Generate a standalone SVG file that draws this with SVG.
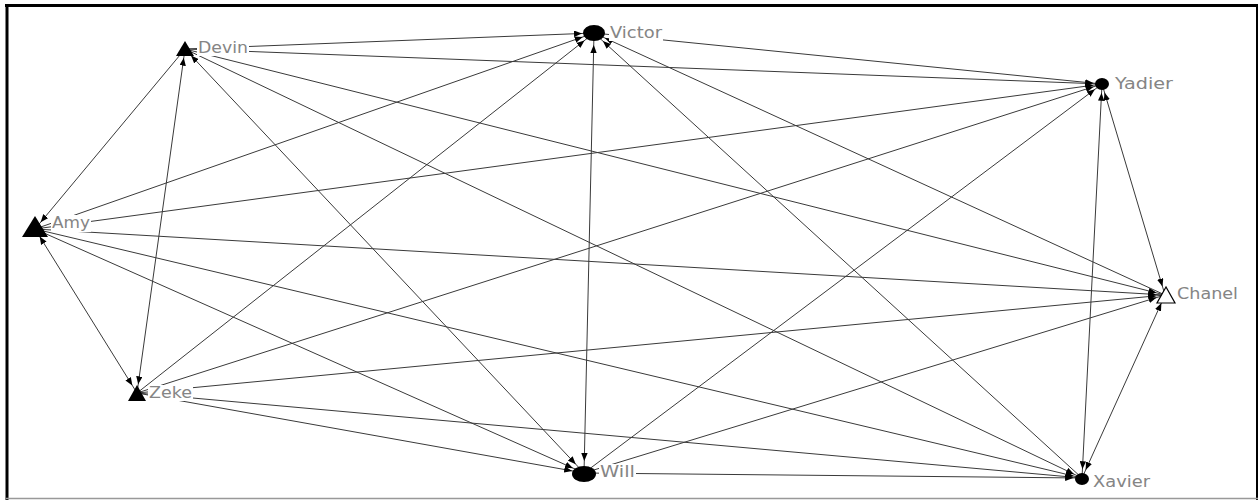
<svg xmlns="http://www.w3.org/2000/svg" width="1259" height="500" viewBox="0 0 1259 500">
<style>
.e{stroke:#3a3a3a;stroke-width:1;fill:none}
.lbl{font-family:"DejaVu Sans","Verdana",sans-serif;font-size:15px;fill:#858585}
.bg{fill:#fff}
.n{fill:#000}
</style>
<defs>
<marker id="s" viewBox="0 0 10 8" markerWidth="8" markerHeight="6.4" refX="21" refY="4" orient="auto-start-reverse" markerUnits="userSpaceOnUse"><path d="M0,0 L10,4 L0,8 z" fill="#000"/></marker>
<marker id="b" viewBox="0 0 10 8" markerWidth="8" markerHeight="6.4" refX="25" refY="4" orient="auto-start-reverse" markerUnits="userSpaceOnUse"><path d="M0,0 L10,4 L0,8 z" fill="#000"/></marker>
</defs>
<rect x="0" y="0" width="1259" height="500" fill="#fff"/>
<g id="frame">
<line x1="5" y1="5.5" x2="1258" y2="5.5" stroke="#000" stroke-width="3"/>
<line x1="7" y1="4" x2="7" y2="500" stroke="#000" stroke-width="3"/>
<line x1="1257" y1="4" x2="1257" y2="500" stroke="#000" stroke-width="2"/>
<line x1="6" y1="498.5" x2="1258" y2="498.5" stroke="#999" stroke-width="1.5"/>
</g>
<g id="connectors">
<line class="e" x1="185" y1="49" x2="594" y2="33" marker-end="url(#b)"/>
<line class="e" x1="185" y1="49" x2="1102" y2="84" marker-end="url(#s)"/>
<line class="e" x1="185" y1="49" x2="35" y2="229" marker-end="url(#s)"/>
<line class="e" x1="185" y1="49" x2="137" y2="393" marker-start="url(#s)" marker-end="url(#s)"/>
<line class="e" x1="185" y1="49" x2="584" y2="473" marker-start="url(#s)" marker-end="url(#b)"/>
<line class="e" x1="185" y1="49" x2="1082" y2="478" marker-end="url(#s)"/>
<line class="e" x1="185" y1="49" x2="1165" y2="295" marker-end="url(#s)"/>
<line class="e" x1="594" y1="33" x2="584" y2="473" marker-start="url(#b)" marker-end="url(#b)"/>
<line class="e" x1="35" y1="229" x2="594" y2="33" marker-end="url(#b)"/>
<line class="e" x1="137" y1="393" x2="594" y2="33" marker-end="url(#b)"/>
<line class="e" x1="1082" y1="478" x2="594" y2="33" marker-end="url(#b)"/>
<line class="e" x1="1165" y1="295" x2="594" y2="33" marker-end="url(#b)"/>
<line class="e" x1="594" y1="33" x2="1102" y2="84" marker-end="url(#s)"/>
<line class="e" x1="35" y1="229" x2="1102" y2="84" marker-end="url(#s)"/>
<line class="e" x1="137" y1="393" x2="1102" y2="84" marker-end="url(#s)"/>
<line class="e" x1="584" y1="473" x2="1102" y2="84" marker-end="url(#s)"/>
<line class="e" x1="1102" y1="84" x2="1082" y2="478" marker-start="url(#s)" marker-end="url(#s)"/>
<line class="e" x1="1102" y1="84" x2="1165" y2="295" marker-start="url(#s)" marker-end="url(#s)"/>
<line class="e" x1="35" y1="229" x2="137" y2="393" marker-start="url(#s)" marker-end="url(#s)"/>
<line class="e" x1="35" y1="229" x2="1165" y2="295" marker-end="url(#s)"/>
<line class="e" x1="35" y1="229" x2="584" y2="473" marker-end="url(#b)"/>
<line class="e" x1="35" y1="229" x2="1082" y2="478" marker-end="url(#s)"/>
<line class="e" x1="137" y1="393" x2="1165" y2="295" marker-end="url(#s)"/>
<line class="e" x1="137" y1="393" x2="584" y2="473" marker-end="url(#b)"/>
<line class="e" x1="137" y1="393" x2="1082" y2="478" marker-end="url(#s)"/>
<line class="e" x1="584" y1="473" x2="1082" y2="478" marker-end="url(#s)"/>
<line class="e" x1="584" y1="473" x2="1165" y2="295" marker-end="url(#s)"/>
<line class="e" x1="1082" y1="478" x2="1165" y2="295" marker-start="url(#s)" marker-end="url(#s)"/>
</g>
<g id="node-devin"><polygon class="n" points="185,41 176,56 194,56"/><rect class="bg" x="197" y="40" width="52" height="16"/><text class="lbl" x="198" y="53" textLength="50" lengthAdjust="spacingAndGlyphs">Devin</text></g>
<g id="node-victor"><ellipse class="n" cx="594" cy="33" rx="11" ry="8"/><rect class="bg" x="609" y="25" width="54" height="16"/><text class="lbl" x="610" y="38" textLength="52" lengthAdjust="spacingAndGlyphs">Victor</text></g>
<g id="node-yadier"><ellipse class="n" cx="1102" cy="84" rx="7" ry="6"/><rect class="bg" x="1114" y="76" width="60" height="16"/><text class="lbl" x="1115" y="89" textLength="58" lengthAdjust="spacingAndGlyphs">Yadier</text></g>
<g id="node-amy"><polygon class="n" points="35,216 22,237 48,237"/><rect class="bg" x="51" y="215" width="40" height="17"/><text class="lbl" x="52" y="228" textLength="38" lengthAdjust="spacingAndGlyphs">Amy</text></g>
<g id="node-chanel"><polygon points="1166,287 1157,303 1175,303" fill="#fff" stroke="#000" stroke-width="1.2"/><rect class="bg" x="1176" y="286" width="63" height="16"/><text class="lbl" x="1177" y="299" textLength="61" lengthAdjust="spacingAndGlyphs">Chanel</text></g>
<g id="node-zeke"><polygon class="n" points="137,385 128,401 146,401"/><rect class="bg" x="148" y="385" width="45" height="16"/><text class="lbl" x="149" y="398" textLength="43" lengthAdjust="spacingAndGlyphs">Zeke</text></g>
<g id="node-will"><ellipse class="n" cx="584" cy="474" rx="12" ry="8"/><rect class="bg" x="599" y="464" width="37" height="16"/><text class="lbl" x="600" y="477" textLength="35" lengthAdjust="spacingAndGlyphs">Will</text></g>
<g id="node-xavier"><ellipse class="n" cx="1082" cy="479" rx="7" ry="6"/><rect class="bg" x="1092" y="474" width="59" height="16"/><text class="lbl" x="1093" y="487" textLength="57" lengthAdjust="spacingAndGlyphs">Xavier</text></g>
</svg>
